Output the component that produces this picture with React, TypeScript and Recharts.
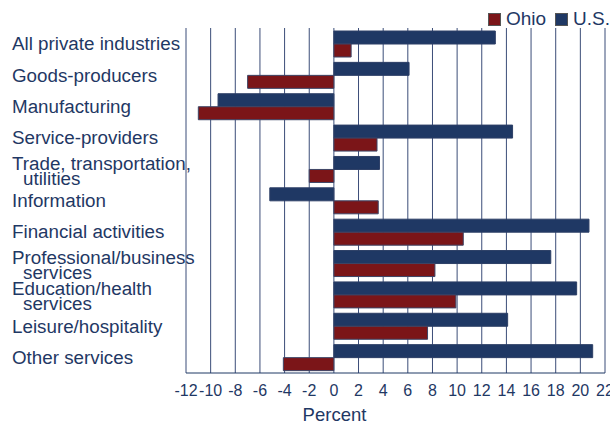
import { BarChart, Bar, XAxis, YAxis, CartesianGrid, Legend } from "recharts";

const categories = [
    "All private industries",
    "Goods-producers",
    "Manufacturing",
    "Service-providers",
    "Trade, transportation,\nutilities",
    "Information",
    "Financial activities",
    "Professional/business\nservices",
    "Education/health\nservices",
    "Leisure/hospitality",
    "Other services"
];
const usValues = [13.1, 6.1, -9.4, 14.5, 3.7, -5.2, 20.7, 17.6, 19.7, 14.1, 21.0];
const ohioValues = [1.4, -7.0, -11.0, 3.5, -2.0, 3.6, 10.5, 8.2, 9.9, 7.6, -4.1];
const xTicks = [-12, -10, -8, -6, -4, -2, 0, 2, 4, 6, 8, 10, 12, 14, 16, 18, 20, 22];

const data = categories.map((name, i) => ({ name, us: usValues[i], ohio: ohioValues[i] }));

const NAVY = "#1F3864";
const RED = "#7B1518";
const FONT = "'Liberation Sans', Arial, sans-serif";

// category labels sit flush left; wrapped lines get a small indent
const CategoryTick = (props: any) => {
    const { y, payload } = props;
    const lines = String(payload.value).split("\n");
    if (lines.length === 1) {
        return (
            <text x={12} y={y} dy="0.35em" fill={NAVY} fontSize={18.8} fontFamily={FONT}>
                {lines[0]}
            </text>
        );
    }
    return (
        <text y={y - 6} dy="0.35em" fill={NAVY} fontSize={18.8} fontFamily={FONT}>
            <tspan x={12}>{lines[0]}</tspan>
            <tspan x={23} dy={15}>{lines[1]}</tspan>
        </text>
    );
};

const LegendBox = () => (
    <div style={{ display: "flex", alignItems: "flex-end", fontFamily: FONT, fontSize: 19, lineHeight: "19px", color: NAVY }}>
        <span style={{ width: 11, height: 11, background: RED, border: "1px solid #555", marginRight: 5, marginBottom: 2 }} />
        <span style={{ marginRight: 9 }}>Ohio</span>
        <span style={{ width: 11, height: 11, background: NAVY, border: "1px solid #555", marginRight: 5, marginBottom: 2 }} />
        <span>U.S.</span>
    </div>
);

export default function App() {
    return (
        <div style={{ position: "absolute", left: 0, top: 0, background: "#fff" }}>
            <BarChart
                width={610}
                height={425}
                data={data}
                layout="vertical"
                margin={{ top: 28, right: 5, bottom: 0, left: 0 }}
                barCategoryGap={3}
                barGap={0}
            >
                <CartesianGrid horizontal={false} stroke="#3b4d78" strokeWidth={1} />
                <XAxis
                    type="number"
                    domain={[-12, 22]}
                    ticks={xTicks}
                    interval={0}
                    height={52}
                    tickLine={false}
                    tickMargin={6}
                    axisLine={{ stroke: NAVY }}
                    tick={{ fill: NAVY, fontSize: 16, fontFamily: FONT }}
                    label={{ value: "Percent", position: "insideBottom", offset: 4, dx: -61, fill: NAVY, fontSize: 18.5, fontFamily: FONT }}
                />
                <YAxis
                    type="category"
                    dataKey="name"
                    width={186}
                    axisLine={false}
                    tickLine={false}
                    interval={0}
                    tick={<CategoryTick />}
                />
                <Legend
                    layout="horizontal"
                    verticalAlign="middle"
                    align="center"
                    content={<LegendBox />}
                    wrapperStyle={{ position: "absolute", top: 9, left: 488, width: 122, height: 20 }}
                />
                <Bar dataKey="us" name="U.S." fill={NAVY} stroke="#2d3f66" strokeWidth={1} isAnimationActive={false} />
                <Bar dataKey="ohio" name="Ohio" fill={RED} stroke="#3d4566" strokeWidth={1} isAnimationActive={false} />
            </BarChart>
        </div>
    );
}
